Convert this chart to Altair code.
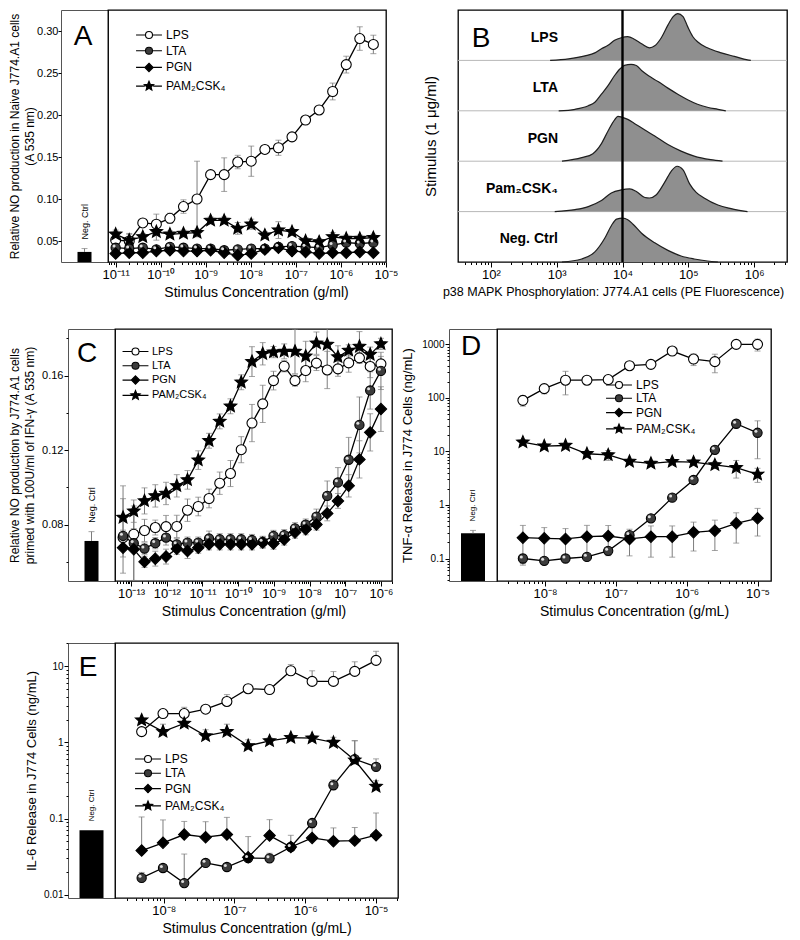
import altair as alt
import pandas as pd

FONT = "Liberation Sans, Arial, Helvetica, sans-serif"
ERR = "#7d7d7d"
BALL = "#3c3c3c"
SERIES = ["LPS", "LTA", "PGN", "PAM₂CSK₄"]

# ---------------- Panel A: naive J774.A1, NO production ----------------
A_conc = [1.0e-11, 2.0e-11, 4.0e-11, 8.0e-11, 1.6e-10, 3.2e-10, 6.4e-10, 1.28e-9,
          2.56e-9, 5.12e-9, 1.02e-8, 2.05e-8, 4.1e-8, 8.2e-8, 1.64e-7, 3.28e-7,
          6.55e-7, 1.31e-6, 2.62e-6, 5.24e-6]
A_lps = [0.051, 0.050, 0.0715, 0.070, 0.077, 0.091, 0.100, 0.129, 0.129, 0.144,
         0.145, 0.159, 0.161, 0.174, 0.194, 0.206, 0.228, 0.260, 0.291, 0.284]
A_lps_err = [0.010, 0.008, 0.004, 0.012, 0.006, 0.008, 0.045, 0.004, 0.020, 0.008,
             0.018, 0.004, 0.009, 0.003, 0.004, 0.003, 0.010, 0.010, 0.014, 0.011]
A_lta = [0.042, 0.041, 0.042, 0.040, 0.043, 0.042, 0.041, 0.041, 0.039, 0.040,
         0.041, 0.041, 0.043, 0.044, 0.043, 0.042, 0.045, 0.048, 0.047, 0.048]
A_lta_err = [0.003, 0.003, 0.002, 0.003, 0.003, 0.002, 0.002, 0.003, 0.002, 0.003,
             0.003, 0.002, 0.003, 0.003, 0.002, 0.003, 0.003, 0.003, 0.003, 0.003]
A_pgn = [0.035, 0.036, 0.036, 0.038, 0.039, 0.038, 0.038, 0.039, 0.036, 0.033,
         0.035, 0.040, 0.042, 0.038, 0.037, 0.035, 0.036, 0.036, 0.037, 0.036]
A_pgn_err = [0.002, 0.003, 0.002, 0.002, 0.003, 0.002, 0.002, 0.002, 0.002, 0.003,
             0.002, 0.002, 0.003, 0.002, 0.002, 0.002, 0.002, 0.002, 0.002, 0.002]
A_pam = [0.058, 0.051, 0.055, 0.061, 0.058, 0.059, 0.060, 0.0745, 0.0745, 0.065,
         0.070, 0.057, 0.063, 0.061, 0.050, 0.049, 0.055, 0.053, 0.053, 0.054]
A_pam_err = [0.005, 0.008, 0.004, 0.010, 0.004, 0.004, 0.004, 0.004, 0.004, 0.007,
             0.006, 0.004, 0.010, 0.004, 0.004, 0.004, 0.005, 0.004, 0.004, 0.004]
A_neg, A_neg_err = 0.037, 0.004

# ---------------- Panel B: p38 MAPK histograms ----------------
B_rows = ["LPS", "LTA", "PGN", "Pam₂CSK₄", "Neg. Ctrl"]
B_logx = [
    [2.90, 3.18, 3.43, 3.58, 3.68, 3.78, 3.88, 3.98, 4.08, 4.18, 4.29, 4.41, 4.49,
     4.59, 4.69, 4.77, 4.84, 4.92, 4.99, 5.07, 5.14, 5.29, 5.50, 5.70, 5.90, 5.95],
    [3.03, 3.28, 3.48, 3.58, 3.68, 3.78, 3.88, 3.96, 4.03, 4.13, 4.21, 4.29, 4.39,
     4.54, 4.69, 4.84, 4.99, 5.14, 5.29, 5.45, 5.57],
    [3.08, 3.38, 3.55, 3.68, 3.78, 3.88, 3.93, 4.00, 4.08, 4.18, 4.34, 4.49, 4.69,
     4.89, 5.09, 5.34, 5.52],
    [2.97, 3.28, 3.48, 3.68, 3.83, 3.98, 4.11, 4.21, 4.34, 4.41, 4.51, 4.64, 4.74,
     4.83, 4.92, 5.02, 5.12, 5.24, 5.45, 5.65, 5.90],
    [3.08, 3.38, 3.58, 3.73, 3.83, 3.91, 4.00, 4.08, 4.16, 4.29, 4.49, 4.69, 4.89,
     5.09, 5.29, 5.45],
]
B_height = [
    [0.00, 0.03, 0.09, 0.15, 0.23, 0.30, 0.40, 0.45, 0.47, 0.42, 0.33, 0.25, 0.29,
     0.45, 0.70, 0.87, 0.93, 0.87, 0.67, 0.47, 0.37, 0.25, 0.15, 0.08, 0.01, 0.00],
    [0.00, 0.03, 0.10, 0.17, 0.33, 0.50, 0.70, 0.83, 0.90, 0.92, 0.90, 0.80, 0.70,
     0.58, 0.45, 0.33, 0.22, 0.13, 0.07, 0.03, 0.00],
    [0.00, 0.07, 0.15, 0.35, 0.60, 0.82, 0.89, 0.87, 0.83, 0.75, 0.62, 0.50, 0.33,
     0.20, 0.10, 0.03, 0.00],
    [0.00, 0.04, 0.10, 0.22, 0.37, 0.43, 0.45, 0.40, 0.28, 0.27, 0.33, 0.58, 0.80,
     0.90, 0.83, 0.55, 0.38, 0.27, 0.13, 0.06, 0.00],
    [0.00, 0.06, 0.20, 0.47, 0.72, 0.85, 0.87, 0.84, 0.75, 0.57, 0.38, 0.23, 0.12,
     0.06, 0.02, 0.00],
]
B_cutoff = 1.0e4

# ---------------- Panel C: IFN-gamma primed, NO production ----------------
C_conc = [5.96e-14, 1.19e-13, 2.38e-13, 4.77e-13, 9.54e-13, 1.91e-12, 3.81e-12,
          7.63e-12, 1.53e-11, 3.05e-11, 6.1e-11, 1.22e-10, 2.44e-10, 4.88e-10,
          9.77e-10, 1.95e-9, 3.91e-9, 7.81e-9, 1.56e-8, 3.13e-8, 6.25e-8, 1.25e-7,
          2.5e-7, 5.0e-7, 1.0e-6]
C_lps = [0.073, 0.0748, 0.0768, 0.0784, 0.0789, 0.079, 0.0877, 0.0897, 0.094, 0.1022,
         0.1074, 0.1202, 0.1345, 0.1448, 0.1573, 0.165, 0.1573, 0.1627, 0.1667,
         0.163, 0.1636, 0.1668, 0.1695, 0.1649, 0.1663]
C_lps_err = [0.004, 0.003, 0.006, 0.004, 0.006, 0.006, 0.006, 0.005, 0.005, 0.006,
             0.007, 0.007, 0.010, 0.010, 0.005, 0.003, 0.003, 0.006, 0.004, 0.010,
             0.004, 0.005, 0.003, 0.006, 0.004]
C_lta = [0.0739, 0.070, 0.0671, 0.070, 0.073, 0.0694, 0.0703, 0.0703, 0.0725, 0.0721,
         0.0721, 0.0721, 0.0717, 0.0707, 0.0739, 0.0743, 0.078, 0.080, 0.0843, 0.0954,
         0.1026, 0.1148, 0.1335, 0.152, 0.1625]
C_lta_err = [0.020, 0.020, 0.003, 0.003, 0.004, 0.003, 0.003, 0.003, 0.004, 0.003,
             0.003, 0.003, 0.003, 0.003, 0.003, 0.003, 0.003, 0.003, 0.004, 0.008,
             0.008, 0.012, 0.015, 0.010, 0.010]
C_pgn = [0.0676, 0.0667, 0.060, 0.0617, 0.0628, 0.067, 0.0658, 0.0676, 0.0694, 0.0694,
         0.0694, 0.0694, 0.0694, 0.0703, 0.0698, 0.072, 0.0757, 0.0775, 0.080, 0.086,
         0.0927, 0.1008, 0.115, 0.1295, 0.142]
C_pgn_err = [0.005, 0.020, 0.003, 0.004, 0.004, 0.003, 0.004, 0.003, 0.003, 0.003,
             0.003, 0.003, 0.003, 0.003, 0.003, 0.003, 0.003, 0.003, 0.003, 0.004,
             0.004, 0.006, 0.010, 0.010, 0.012]
C_pam = [0.0838, 0.0872, 0.0927, 0.0954, 0.0967, 0.1008, 0.104, 0.1146, 0.125, 0.1354,
         0.1435, 0.1564, 0.1675, 0.1717, 0.1726, 0.173, 0.173, 0.1704, 0.1774, 0.1767,
         0.170, 0.1735, 0.1756, 0.1713, 0.177]
C_pam_err = [0.017, 0.006, 0.007, 0.006, 0.006, 0.006, 0.005, 0.005, 0.004, 0.004,
             0.004, 0.004, 0.008, 0.006, 0.003, 0.004, 0.012, 0.008, 0.006, 0.012,
             0.006, 0.003, 0.008, 0.004, 0.003]
C_neg, C_neg_err = 0.0712, 0.005

# ---------------- Panel D: TNF-alpha ----------------
DE_conc = [4.88e-9, 9.77e-9, 1.95e-8, 3.91e-8, 7.81e-8, 1.56e-7, 3.13e-7, 6.25e-7,
           1.25e-6, 2.5e-6, 5.0e-6, 1.0e-5]
D_lps = [90, 149, 214, 214, 220, 399, 423, 750, 532, 475, 1000, 1000]
D_lps_err = [20, 30, 100, 20, 30, 40, 40, 120, 130, 180, 60, 250]
D_lta = [0.10, 0.0905, 0.10, 0.107, 0.139, 0.273, 0.563, 1.37, 2.93, 10.7, 32.9, 22.3]
D_lta_err = [0.02, 0.01, 0.01, 0.01, 0.01, 0.03, 0.05, 0.10, 0.20, 1.0, 3.0, 15.0]
D_pgn = [0.245, 0.238, 0.232, 0.256, 0.263, 0.232, 0.256, 0.256, 0.308, 0.331, 0.454, 0.563]
D_pgn_err = [0.17, 0.14, 0.13, 0.16, 0.15, 0.12, 0.15, 0.15, 0.17, 0.19, 0.26, 0.30]
D_pam = [14.9, 12.6, 12.9, 9.05, 8.6, 6.5, 5.97, 6.45, 6.3, 5.6, 4.98, 3.74]
D_pam_err = [1.5, 1.0, 1.0, 1.2, 1.8, 0.6, 0.6, 0.6, 0.5, 0.8, 1.8, 1.1]
D_neg, D_neg_err = 0.295, 0.04

# ---------------- Panel E: IL-6 ----------------
E_lps = [1.39, 2.40, 2.40, 2.74, 3.46, 5.09, 4.96, 8.77, 6.35, 6.35, 8.6, 12.0]
E_lps_err = [0.1, 0.3, 0.5, 0.2, 0.8, 0.3, 0.3, 1.8, 2.4, 2.2, 2.9, 3.8]
E_lta = [0.0166, 0.0224, 0.0142, 0.0261, 0.0231, 0.0303, 0.030, 0.0423, 0.0874, 0.274, 0.604, 0.479]
E_lta_err = [0.003, 0.002, 0.020, 0.002, 0.002, 0.003, 0.005, 0.004, 0.010, 0.050, 0.450, 0.130]
E_pgn = [0.038, 0.048, 0.0617, 0.057, 0.0617, 0.031, 0.0598, 0.0423, 0.0557, 0.0504, 0.0513, 0.0604]
E_pgn_err = [0.067, 0.048, 0.030, 0.034, 0.042, 0.027, 0.037, 0.018, 0.020, 0.025, 0.025, 0.058]
E_pam = [1.97, 1.39, 1.78, 1.22, 1.39, 0.904, 1.05, 1.16, 1.14, 1.0, 0.586, 0.264]
E_pam_err = [0.10, 0.35, 0.10, 0.25, 0.35, 0.18, 0.10, 0.10, 0.10, 0.17, 0.47, 0.05]
E_neg, E_neg_err = 0.070, 0.0

# ---------------- helpers ----------------
STAR = ("M0,-1L0.2645,-0.364L0.951,-0.309L0.428,0.139L0.588,0.809L0,0.45"
        "L-0.588,0.809L-0.428,0.139L-0.951,-0.309L-0.2645,-0.364Z")
LEG_CIRCLE = "M-3.7,0H-1M1,0H3.7M1,0A1,1,0,1,1,-1,0A1,1,0,1,1,1,0Z"
LEG_DIAMOND = "M-3.7,0H-1.2M1.2,0H3.7M0,-1.2L1.2,0L0,1.2L-1.2,0Z"
LEG_STAR = ("M-3.7,0H-1.2M1.2,0H3.7M0,-1.4L0.370,-0.510L1.331,-0.433L0.599,0.195"
            "L0.823,1.133L0,0.63L-0.823,1.133L-0.599,0.195L-1.331,-0.433L-0.370,-0.510Z")
POINT_STYLE = {  # series -> (shape, fill, size)
    "LPS": ("circle", "white", 100),
    "LTA": ("circle", BALL, 85),
    "PGN": ("diamond", "black", 130),
    "PAM₂CSK₄": (STAR, "black", 170),
}
INDEP = dict(shape="independent", fill="independent", stroke="independent")

SUP = str.maketrans("-0123456789", "⁻⁰¹²³⁴⁵⁶⁷⁸⁹")
L10 = "(log(datum.value)/LN10)"
MAJOR = f"abs({L10} - round({L10})) < 0.01"


def pow10(e):
    return "10" + str(e).translate(SUP)


def log_label_expr(mapping):
    chain = "''"
    for e, s in mapping.items():
        chain = f"round({L10}) == {e} ? '{s}' : ({chain})"
    return f"{MAJOR} ? ({chain}) : ''"


def log_ticks(dmin, dmax):
    import math
    vals = []
    for e in range(math.floor(math.log10(dmin)), math.floor(math.log10(dmax)) + 1):
        for k in range(1, 10):
            v = k * 10.0 ** e
            if dmin * 0.999 <= v <= dmax * 1.001:
                vals.append(v)
    return vals


def log_x_axis(title, dom, exps, title_size=14, title_x=None):
    kw = dict(title=title, values=log_ticks(*dom),
              labelExpr=log_label_expr({e: pow10(e) for e in exps}),
              tickSize={"expr": f"{MAJOR} ? 5 : 2.5"}, labelOverlap=False,
              labelFlush=False, domain=False, grid=False, labelFontSize=13,
              titleFontSize=title_size, labelPadding=1, titlePadding=4)
    if title_x is not None:
        kw["titleX"] = title_x
    return alt.Axis(**kw)


def spacer(w):
    return alt.Chart(pd.DataFrame({"s": [0]})).mark_point(opacity=0).encode(
        x=alt.X("s:Q", axis=None), y=alt.Y("s:Q", axis=None)
    ).properties(width=w, height=10, view=alt.ViewBackground(stroke="transparent"))


def neg_panel(value, err, ydom, ylog, yaxis, width, height, bar_size, letter, lx, ly, fs):
    df = pd.DataFrame({"cat": ["Neg. Ctrl"], "value": [value], "hi": [value + err],
                       "base": [ydom[0]]})
    ys = alt.Scale(type="log" if ylog else "linear", domain=ydom, nice=False, zero=False)
    x = alt.X("cat:N", axis=None, scale=alt.Scale(paddingInner=0, paddingOuter=0))
    c = alt.Chart(df)
    layers = [c.mark_bar(color="black", size=bar_size).encode(
        x=x, y=alt.Y("value:Q", scale=ys, axis=yaxis), y2="base:Q")]
    if err > 0:
        layers.append(c.mark_rule(color=ERR).encode(
            x=x, y=alt.Y("value:Q", scale=ys, axis=yaxis), y2="hi:Q"))
        layers.append(c.mark_tick(orient="horizontal", size=6, thickness=1, color=ERR).encode(
            x=x, y=alt.Y("hi:Q", scale=ys, axis=yaxis)))
    layers.append(c.mark_text(angle=270, align="left", baseline="middle", dx=9,
                              fontSize=fs, font=FONT).encode(
        x=x, y=alt.Y("hi:Q", scale=ys, axis=yaxis), text="cat:N"))
    layers.append(alt.Chart(pd.DataFrame({"t": [letter]})).mark_text(
        fontSize=28, font=FONT, align="center", baseline="alphabetic").encode(
        x=alt.value(lx), y=alt.value(ly), text="t:N"))
    return alt.layer(*layers).properties(
        width=width, height=height, view=alt.ViewBackground(stroke="#555", strokeWidth=1))


def main_panel(conc, vals, errs, xdom, ydom, ylog, xaxis, width, height,
               leg_x, leg_y, row_pad, leg_font, upper_only=False):
    rows = []
    for name, vv, ee in zip(SERIES, vals, errs):
        for c_, v, e in zip(conc, vv, ee):
            rows.append({"conc": c_, "value": v, "series": name, "hi": v + e,
                         "lo": v if upper_only else v - e})
    df = pd.DataFrame(rows)
    xs = alt.Scale(type="log", domain=xdom, nice=False)
    ys = alt.Scale(type="log" if ylog else "linear", domain=ydom, nice=False, zero=False)
    X = alt.X("conc:Q", scale=xs, axis=xaxis)

    def Y(f):
        return alt.Y(f, scale=ys, axis=None)

    base = alt.Chart(df)
    layers = [base.mark_rule(color=ERR, strokeWidth=1, clip=True).encode(
        x=X, y=Y("lo:Q"), y2="hi:Q", detail="series:N")]
    layers.append(base.mark_tick(orient="horizontal", size=6, thickness=1, color=ERR,
                                 clip=True).encode(x=X, y=Y("hi:Q")))
    if not upper_only:
        layers.append(base.mark_tick(orient="horizontal", size=6, thickness=1, color=ERR,
                                     clip=True).encode(x=X, y=Y("lo:Q")))
    layers.append(base.mark_line(color="black", strokeWidth=1.3).encode(
        x=X, y=Y("value:Q"), detail="series:N"))
    for name in SERIES:
        shp, fil, sz = POINT_STYLE[name]
        layers.append(base.transform_filter(alt.datum.series == name).mark_point(
            filled=True, shape=shp, fill=fil, stroke="black", strokeWidth=1.1,
            size=sz, opacity=1).encode(x=X, y=Y("value:Q")))
    layers.append(base.transform_filter(alt.datum.series == "LTA").mark_point(
        filled=True, color="#dedede", size=9, opacity=1, xOffset=-1.6, yOffset=-1.6
    ).encode(x=X, y=Y("value:Q")))
    leg = alt.Legend(orient="none", legendX=leg_x, legendY=leg_y, title=None,
                     symbolSize=49, labelOffset=11, rowPadding=row_pad, padding=0,
                     labelFontSize=leg_font, labelFont=FONT, symbolStrokeWidth=1.1,
                     symbolOpacity=1)
    layers.append(base.mark_point(filled=True, opacity=0, strokeWidth=1.1).encode(
        x=X, y=Y("value:Q"),
        shape=alt.Shape("series:N", legend=leg,
                        scale=alt.Scale(domain=SERIES,
                                        range=[LEG_CIRCLE, LEG_CIRCLE, LEG_DIAMOND, LEG_STAR])),
        fill=alt.Fill("series:N", legend=leg,
                      scale=alt.Scale(domain=SERIES, range=["white", BALL, "black", "black"])),
        stroke=alt.Stroke("series:N", legend=leg,
                          scale=alt.Scale(domain=SERIES,
                                          range=["black", "black", "black", "black"]))))
    return alt.layer(*layers).properties(
        width=width, height=height, view=alt.ViewBackground(stroke="black", strokeWidth=1.3))


def lin_axis(title, values, major_mult, title_pad, tick_major=4, label_pad=1):
    test = f"abs(datum.value*{major_mult} - round(datum.value*{major_mult})) < 0.01"
    return alt.Axis(title=title, values=values,
                    labelExpr=f"{test} ? format(datum.value, '.2f') : ''",
                    tickSize={"expr": f"{test} ? {tick_major} : 2"}, labelFontSize=11,
                    labelPadding=label_pad, titleFontSize=12, titleLineHeight=15,
                    titlePadding=title_pad, domain=False, grid=False, labelOverlap=False)


def log_y_axis(title, dom, mapping, title_pad):
    return alt.Axis(title=title, values=log_ticks(*dom), labelExpr=log_label_expr(mapping),
                    tickSize={"expr": f"{MAJOR} ? 4 : 2"}, labelFontSize=10,
                    labelPadding=1, titleFontSize=13, titlePadding=title_pad,
                    domain=False, grid=False, labelOverlap=False)


# ---------------- Panel A ----------------
A_ydom = [0.025, 0.325]
A_xdom = [10 ** -11.17, 1e-5]
A_neg_chart = neg_panel(
    A_neg, A_neg_err, A_ydom, False,
    lin_axis(["Relative NO production in Naive J774.A1 cells", "(A 535 nm)"],
             [0.05, 0.10, 0.15, 0.20, 0.25, 0.30], 20, 0, tick_major=3, label_pad=0),
    47, 252, 14, "A", 22, 35, 9)
A_main = main_panel(A_conc, [A_lps, A_lta, A_pgn, A_pam],
                    [A_lps_err, A_lta_err, A_pgn_err, A_pam_err],
                    A_xdom, A_ydom, False,
                    log_x_axis("Stimulus Concentration (g/ml)", A_xdom, range(-11, -4),
                               title_x=148),
                    278, 252, 35, 19, 3.7, 12)

# ---------------- Panel B ----------------
B_xdom = [10 ** 1.5, 10 ** 6.5]
recs = []
for i, (name, lx, hh) in enumerate(zip(B_rows, B_logx, B_height)):
    b = len(B_rows) - 1 - i
    for lv, h in zip(lx, hh):
        recs.append({"row": name, "fl": 10 ** lv, "top": b + h, "base": b})
dfB = pd.DataFrame(recs)
dfB_rows = pd.DataFrame({"row": B_rows,
                         "base": [len(B_rows) - 1 - i for i in range(len(B_rows))]})
dfB_rows["ly"] = dfB_rows["base"] + 0.45
B_xs = alt.Scale(type="log", domain=B_xdom, nice=False)
B_ys = alt.Scale(domain=[0, 5], nice=False, zero=False)
B_xaxis = log_x_axis("p38 MAPK Phosphorylation: J774.A1 cells  (PE Fluorescence)",
                     B_xdom, range(2, 7), title_size=12.5, title_x=155)
B_yaxis = alt.Axis(title="Stimulus (1 μg/ml)", labels=False, ticks=False, domain=False,
                   grid=False, titleFontSize=15, titlePadding=20)
B_sep = alt.Chart(dfB_rows[dfB_rows["base"] > 0]).mark_rule(
    color="#b8b8b8", strokeWidth=1).encode(y=alt.Y("base:Q", scale=B_ys, axis=B_yaxis))
B_area = alt.Chart(dfB).mark_area(
    color="#8f8f8f", opacity=1, interpolate="monotone",
    line={"color": "#1e1e1e", "strokeWidth": 1.2}).encode(
    x=alt.X("fl:Q", scale=B_xs, axis=B_xaxis),
    y=alt.Y("top:Q", scale=B_ys, axis=B_yaxis), y2="base:Q", detail="row:N")
B_vline = alt.Chart(pd.DataFrame({"fl": [B_cutoff]})).mark_rule(
    color="black", strokeWidth=2.4).encode(x=alt.X("fl:Q", scale=B_xs, axis=B_xaxis))
B_text = alt.Chart(dfB_rows).mark_text(
    fontWeight="bold", fontSize=14, font=FONT, align="right", baseline="middle").encode(
    x=alt.value(100), y=alt.Y("ly:Q", scale=B_ys, axis=B_yaxis), text="row:N")
B_letter = alt.Chart(pd.DataFrame({"t": ["B"]})).mark_text(
    fontSize=28, font=FONT, align="center", baseline="alphabetic").encode(
    x=alt.value(23), y=alt.value(37), text="t:N")
B_chart = alt.layer(B_sep, B_area, B_vline, B_text, B_letter).properties(
    width=329, height=252, view=alt.ViewBackground(stroke="black", strokeWidth=1.3))

# ---------------- Panel C ----------------
C_ydom = [0.0497, 0.185]
C_xdom = [10 ** -13.45, 10 ** -5.69]
C_neg_chart = neg_panel(
    C_neg, C_neg_err, C_ydom, False,
    lin_axis(["Relative NO production by J774.A1 cells",
              "primed with 100U/ml of IFN-γ (A 535 nm)"],
             [0.06, 0.08, 0.10, 0.12, 0.14, 0.16, 0.18], 25, 5),
    47, 252, 14, "C", 19, 33, 9)
C_main = main_panel(C_conc, [C_lps, C_lta, C_pgn, C_pam],
                    [C_lps_err, C_lta_err, C_pgn_err, C_pam_err],
                    C_xdom, C_ydom, False,
                    log_x_axis("Stimulus Concentration (g/ml)", C_xdom, range(-13, -5)),
                    277, 252, 15, 17, 1.3, 11)

# ---------------- Panel D ----------------
D_ydom = [0.038, 1936]
D_xdom = [10 ** -8.677, 10 ** -4.81]
D_neg_chart = neg_panel(
    D_neg, D_neg_err, D_ydom, True,
    log_y_axis("TNF-α Release in J774 Cells (ng/mL)", D_ydom,
               {-1: "0.1", 0: "1", 1: "10", 2: "100", 3: "1000"}, 7),
    48, 252, 24, "D", 22, 26, 8)
D_main = main_panel(DE_conc, [D_lps, D_lta, D_pgn, D_pam],
                    [D_lps_err, D_lta_err, D_pgn_err, D_pam_err],
                    D_xdom, D_ydom, True,
                    log_x_axis("Stimulus Concentration (g/mL)", D_xdom, range(-8, -4)),
                    274, 252, 116, 50, 1.3, 12)

# ---------------- Panel E ----------------
E_ydom = [0.00904, 20.3]
E_xdom = [10 ** -8.688, 10 ** -4.69]
E_neg_chart = neg_panel(
    E_neg, E_neg_err, E_ydom, True,
    log_y_axis("IL-6 Release in J774 Cells (ng/mL)", E_ydom,
               {-2: "0.01", -1: "0.1", 0: "1", 1: "10"}, 5),
    47, 255, 24, "E", 20, 33, 8)
E_main = main_panel(DE_conc, [E_lps, E_lta, E_pgn, E_pam],
                    [E_lps_err, E_lta_err, E_pgn_err, E_pam_err],
                    E_xdom, E_ydom, True,
                    log_x_axis("Stimulus Concentration (g/mL)", E_xdom, range(-8, -4)),
                    283, 255, 27, 110, 2.3, 12, upper_only=True)

# ---------------- layout ----------------
row1 = alt.hconcat(spacer(52), A_neg_chart, A_main, spacer(72), B_chart,
                   spacing=0, bounds="flush").resolve_scale(**INDEP)
row2 = alt.hconcat(spacer(59), C_neg_chart, C_main, spacer(57), D_neg_chart, D_main,
                   spacing=0, bounds="flush").resolve_scale(**INDEP)
row3 = alt.hconcat(spacer(59), E_neg_chart, E_main, spacing=0,
                   bounds="flush").resolve_scale(**INDEP)

top = alt.vconcat(row1, row2, spacing=28).resolve_scale(**INDEP)
chart = alt.vconcat(top, row3, spacing=18).resolve_scale(**INDEP).properties(
    padding={"left": 0, "top": 0, "right": 0, "bottom": 0}
).configure(font=FONT).configure_axis(
    labelFont=FONT, titleFont=FONT, titleFontWeight="normal", labelColor="black",
    titleColor="black", tickColor="black", tickWidth=1
).configure_legend(labelFont=FONT, labelColor="black")

chart.save("out.html", embed_options={"renderer": "svg", "actions": False})
